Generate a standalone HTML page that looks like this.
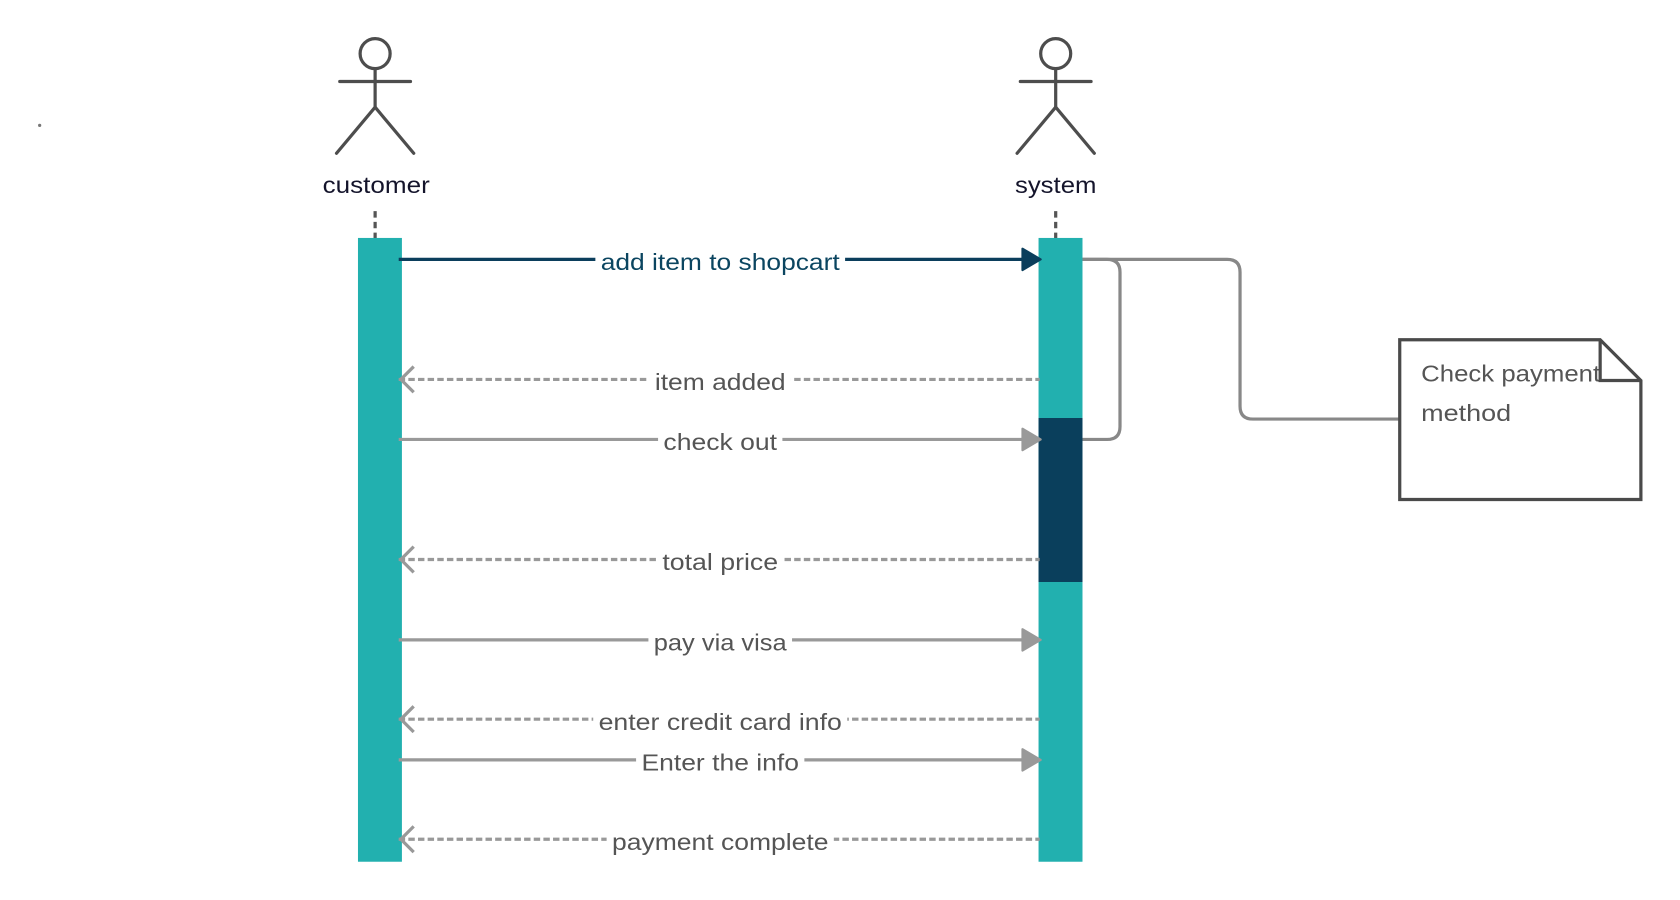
<!DOCTYPE html>
<html><head><meta charset="utf-8"><style>
html,body{margin:0;padding:0;background:#fff;width:1680px;height:900px;overflow:hidden}
svg{display:block}
text{font-family:"Liberation Sans",sans-serif}
</style></head><body>
<svg id="d" width="1680" height="900" viewBox="0 0 1567.5 839.7" preserveAspectRatio="none" xmlns="http://www.w3.org/2000/svg">
<circle cx="37" cy="117" r="1.5" fill="#777"/>
<g stroke="#4d4d4d" stroke-width="3" fill="none" stroke-linecap="round">
<circle cx="350" cy="50" r="14"/><line x1="350" y1="64" x2="350" y2="100"/><line x1="317" y1="76" x2="383" y2="76"/><polyline points="314,143 350,100 386,143"/></g>
<g stroke="#4d4d4d" stroke-width="3" fill="none" stroke-linecap="round">
<circle cx="985" cy="50" r="14"/><line x1="985" y1="64" x2="985" y2="100"/><line x1="952" y1="76" x2="1018" y2="76"/><polyline points="949,143 985,100 1021,143"/></g>
<text x="351" y="180" font-size="22" text-anchor="middle" fill="#14142b" textLength="100" lengthAdjust="spacingAndGlyphs">customer</text>
<text x="985" y="180" font-size="22" text-anchor="middle" fill="#14142b" textLength="76" lengthAdjust="spacingAndGlyphs">system</text>
<line x1="350" y1="197" x2="350" y2="222" stroke="#555" stroke-width="3" stroke-dasharray="6,4"/>
<line x1="985" y1="197" x2="985" y2="222" stroke="#555" stroke-width="3" stroke-dasharray="6,4"/>
<rect x="334" y="222" width="41" height="582" fill="#22b0af"/>
<rect x="969" y="222" width="41" height="582" fill="#22b0af"/>
<rect x="969" y="390" width="41" height="153" fill="#0a3f5c"/>
<path d="M1010 242 H1033 Q1045 242 1045 254 V398 Q1045 410 1033 410 H1010" fill="none" stroke="#888" stroke-width="3"/>
<path d="M1010 242 H1145 Q1157 242 1157 254 V379 Q1157 391 1169 391 H1306" fill="none" stroke="#888" stroke-width="3"/>
<g>
<path d="M1306 317 H1493 L1531 355 V466 H1306 Z" fill="#fff" stroke="#4a4a4a" stroke-width="3"/>
<text x="1326" y="356" font-size="22" fill="#555" textLength="167" lengthAdjust="spacingAndGlyphs">Check payment</text>
<text x="1326" y="393" font-size="22" fill="#555" textLength="84" lengthAdjust="spacingAndGlyphs">method</text>
<path d="M1493 317 V355 H1531" fill="none" stroke="#4a4a4a" stroke-width="3"/>
</g>
<g id="msgs"></g>
</svg>
<script>
const labels=["add item to shopcart","item added","check out","total price","pay via visa","enter credit card info","Enter the info","payment complete"];
const yPos=[242,354,410,522,597,671,709,783];
const kinds=["call","return","call","return","call","return","call","return"];
const textW=[223,122,106,108,124,227,147,202];
const NS="http://www.w3.org/2000/svg";
const g=document.getElementById('msgs');
const xL=372,xR=970,cx=672;
function mk(t,a){const e=document.createElementNS(NS,t);for(const k in a)e.setAttribute(k,a[k]);return e;}
labels.forEach((lab,i)=>{
 const y=yPos[i],k=kinds[i],first=i===0;
 const col=first?"#0b3e5c":"#999";
 const grp=mk('g',{});
 
 
 const line=mk('line',{x1:xL,y1:y,x2:xR-(k==="call"?12:0),y2:y,stroke:col,'stroke-width':3});
 if(k==="return")line.setAttribute('stroke-dasharray','6,3');
 grp.appendChild(line);
 if(k==="call"){grp.appendChild(mk('path',{d:`M${xR-16} ${y-10} L${xR+1} ${y} L${xR-16} ${y+10} Z`,fill:col,stroke:col,'stroke-width':2,'stroke-linejoin':'round'}));}
 else{grp.appendChild(mk('polyline',{points:`${xL+14},${y-12} ${xL+2},${y} ${xL+14},${y+12}`,fill:'none',stroke:col,'stroke-width':3}));}
 const w=textW[i];
 grp.appendChild(mk('rect',{x:cx-w/2-5,y:y-14,width:w+10,height:28,fill:'#fff'}));
 const t=mk('text',{x:cx,y:y+10,'font-size':22,'text-anchor':'middle',fill:first?"#0b4560":"#555",textLength:w,lengthAdjust:'spacingAndGlyphs'});
 t.textContent=lab;grp.appendChild(t);
 g.appendChild(grp);
});
</script>
</body></html>
